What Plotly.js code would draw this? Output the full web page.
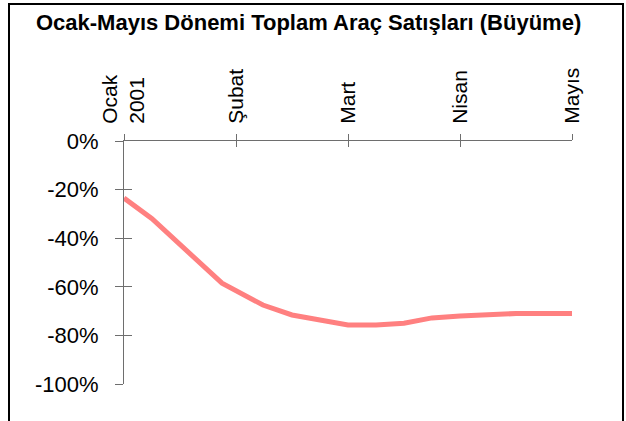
<!DOCTYPE html>
<html>
<head>
<meta charset="utf-8">
<script src="https://cdn.plot.ly/plotly-3.0.1.min.js"></script>
<style>
  html, body { margin: 0; padding: 0; background: #fff; }
  #wrap { position: relative; width: 626px; height: 421px; overflow: hidden; }
  #chart { position: absolute; left: 0; top: 0; width: 626px; height: 421px; }
  #frame { position: absolute; left: 8px; top: 3px; width: 612px; height: 440px;
           border: 2px solid #000; pointer-events: none; }
</style>
</head>
<body>
<div id="wrap">
  <div id="chart"></div>
  <div id="frame"></div>
</div>
<script>
// Month positions (0 = Ocak ... 4 = Mayıs), fractional positions inside months
const monthPos = [0, 0.25, 0.875, 1.24, 1.5, 2.0, 2.25, 2.5, 2.75, 3.0, 3.5, 4.0];
const growth   = [-23.5, -32, -58.5, -67.5, -71.6, -75.7, -75.7, -75, -72.8, -72, -71, -71];
const monthTicks = [0, 1, 2, 3, 4];
const monthLabels = ['Ocak<br>2001', 'Şubat', 'Mart', 'Nisan', 'Mayıs'];
const yTicks = [0, -20, -40, -60, -80, -100];
const yLabels = ['0%', '-20%', '-40%', '-60%', '-80%', '-100%'];

const font = 'Liberation Sans, Arial, sans-serif';
const axisColor = '#6e6e6e';

const traces = [
  {
    x: monthPos, y: growth, type: 'scatter', mode: 'lines',
    line: { color: '#FF8080', width: 5 },
    hoverinfo: 'skip'
  },
  {
    x: monthPos, y: growth, type: 'scatter', mode: 'lines',
    xaxis: 'x2', yaxis: 'y2',
    line: { color: 'rgba(0,0,0,0)', width: 0 },
    hoverinfo: 'skip'
  }
];

const layout = {
  width: 626, height: 421,
  margin: { l: 124, r: 54, t: 141, b: 37 },
  paper_bgcolor: '#fff', plot_bgcolor: '#fff',
  showlegend: false,
  title: {
    text: '<b>Ocak-Mayıs Dönemi Toplam Araç Satışları (Büyüme)</b>',
    font: { family: font, size: 22, color: '#000' },
    x: 0.493, xanchor: 'center', y: 0.948, yanchor: 'middle'
  },
  xaxis: {
    range: [0, 4], side: 'top', anchor: 'y',
    tickmode: 'array', tickvals: monthTicks, ticktext: monthLabels, tickangle: -90,
    ticks: 'outside', ticklen: 6, tickcolor: axisColor, tickwidth: 1,
    ticklabelstandoff: 6,
    showline: true, linecolor: axisColor, linewidth: 1,
    showgrid: false, zeroline: false,
    tickfont: { family: font, size: 21, color: '#000' }
  },
  yaxis: {
    range: [-100, 0],
    tickmode: 'array', tickvals: yTicks, ticktext: yLabels,
    ticks: 'outside', ticklen: 8, tickcolor: axisColor, tickwidth: 1,
    ticklabelstandoff: 12,
    showline: true, linecolor: axisColor, linewidth: 1,
    showgrid: false, zeroline: false,
    tickfont: { family: font, size: 22, color: '#000' }
  },
  xaxis2: {
    range: [0, 4], overlaying: 'x', side: 'top', anchor: 'y2',
    tickmode: 'array', tickvals: monthTicks, showticklabels: false,
    ticks: 'inside', ticklen: 6, tickcolor: axisColor, tickwidth: 1,
    showline: false, showgrid: false, zeroline: false
  },
  yaxis2: {
    range: [-100, 0], overlaying: 'y', side: 'left', anchor: 'x2',
    tickmode: 'array', tickvals: yTicks, showticklabels: false,
    ticks: 'inside', ticklen: 8, tickcolor: axisColor, tickwidth: 1,
    showline: false, showgrid: false, zeroline: false
  }
};

Plotly.newPlot('chart', traces, layout, { displayModeBar: false, staticPlot: true });
</script>
</body>
</html>
